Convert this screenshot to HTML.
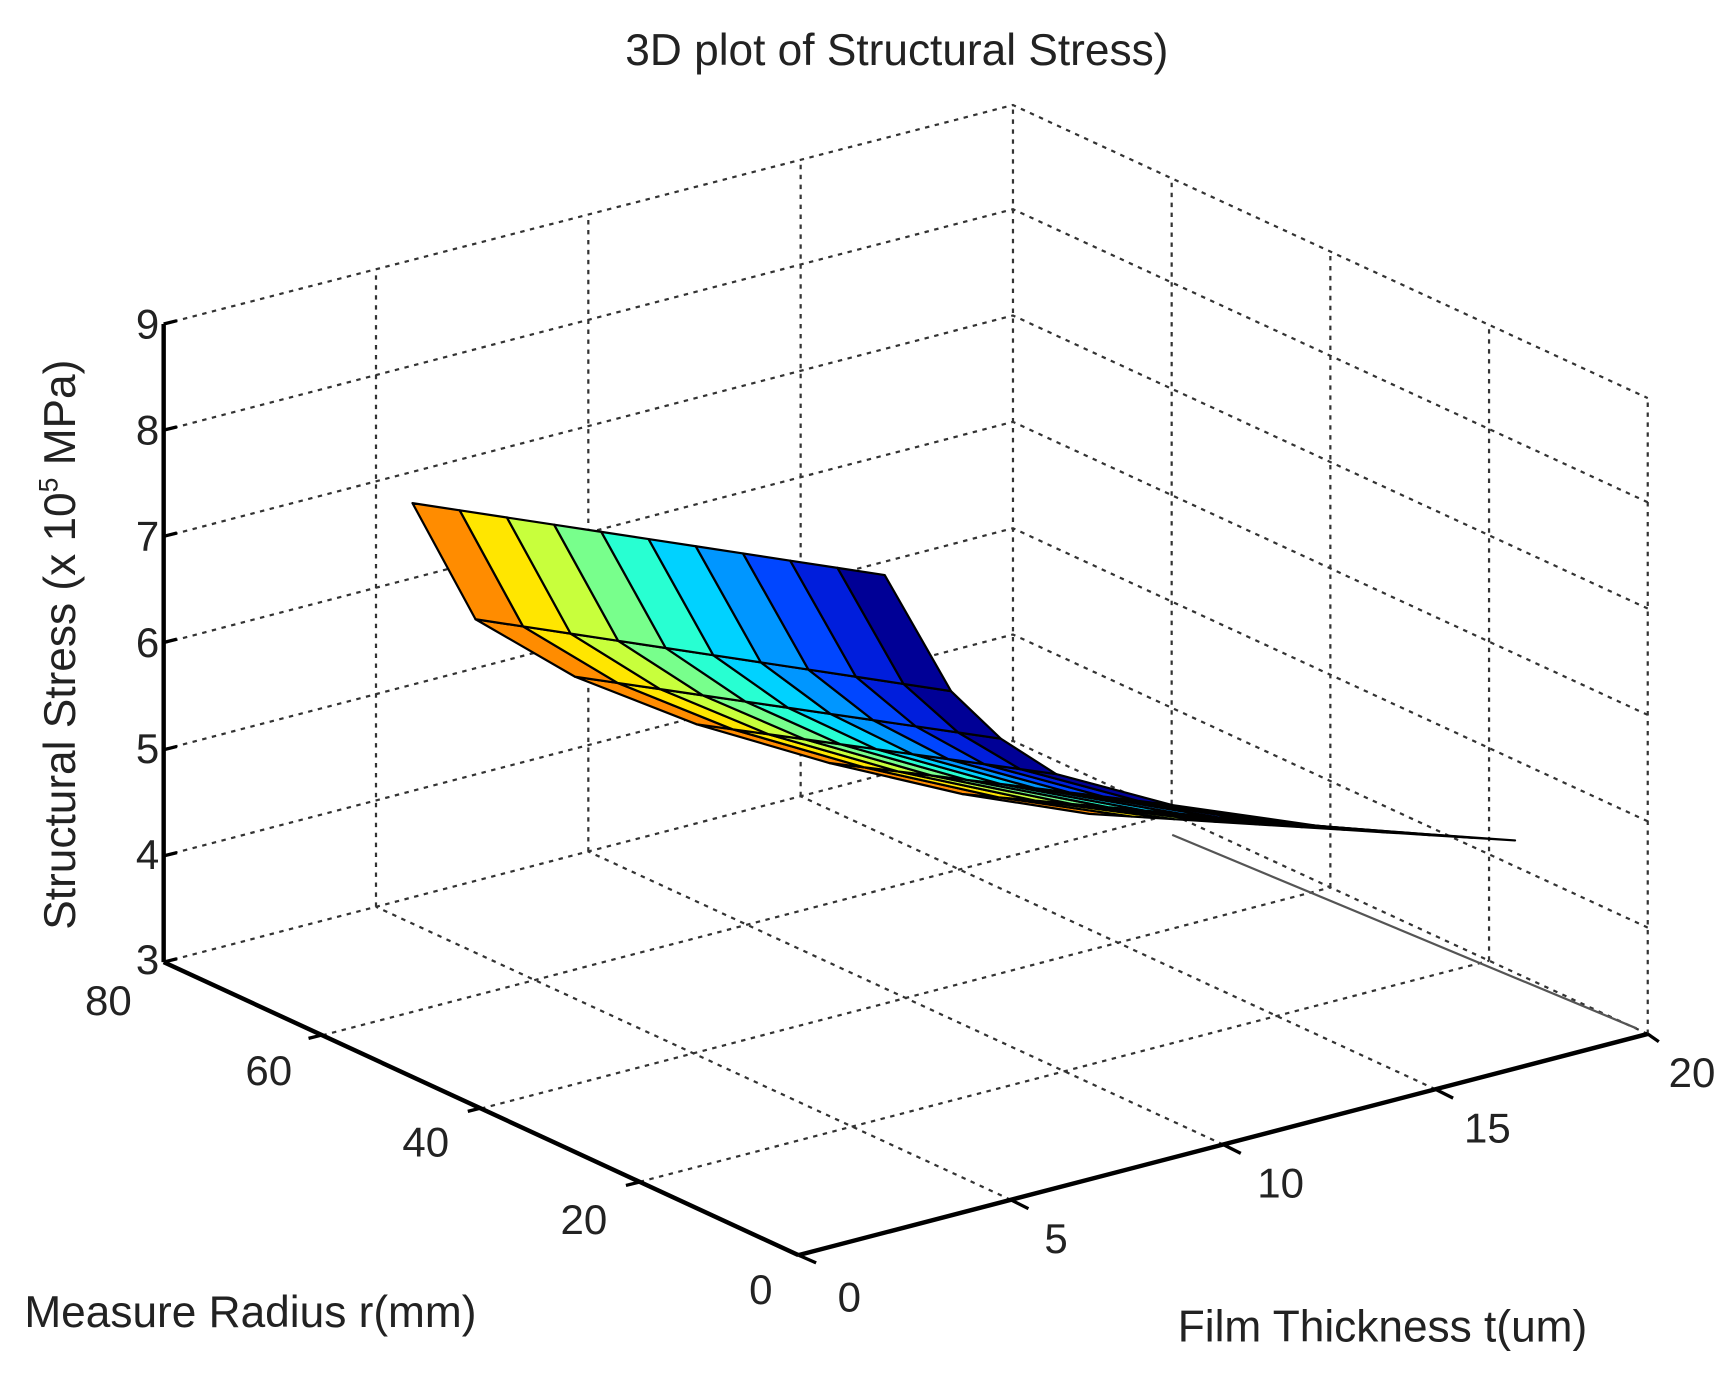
<!DOCTYPE html>
<html><head><style>
html,body{margin:0;padding:0;background:#fff;}
svg{display:block;}
text{font-family:"Liberation Sans",sans-serif;fill:#222;}
</style></head><body>
<svg width="1734" height="1373" viewBox="0 0 1568 1241.6" preserveAspectRatio="none" xmlns="http://www.w3.org/2000/svg">
<rect width="1568" height="1242" fill="#fff"/>
<g stroke="#333" stroke-width="2" stroke-dasharray="4,5" fill="none">
<line x1="578.5" y1="1068.75" x2="1346.5" y2="868.75"/>
<line x1="435" y1="1002.5" x2="1203" y2="802.5"/>
<line x1="291.5" y1="936.25" x2="1059.5" y2="736.25"/>
<line x1="148" y1="870" x2="916" y2="670"/>
<line x1="914" y1="1085" x2="340" y2="820"/>
<line x1="1106" y1="1035" x2="532" y2="770"/>
<line x1="1298" y1="985" x2="724" y2="720"/>
<line x1="1490" y1="935" x2="916" y2="670"/>
<line x1="340" y1="820" x2="340" y2="245"/>
<line x1="532" y1="770" x2="532" y2="195"/>
<line x1="724" y1="720" x2="724" y2="145"/>
<line x1="916" y1="670" x2="916" y2="95"/>
<line x1="1059.5" y1="736.25" x2="1059.5" y2="161.25"/>
<line x1="1203" y1="802.5" x2="1203" y2="227.5"/>
<line x1="1346.5" y1="868.75" x2="1346.5" y2="293.75"/>
<line x1="1490" y1="935" x2="1490" y2="360"/>
<polyline points="148,773.8 916,573.8 1490,838.8"/>
<polyline points="148,677.7 916,477.7 1490,742.7"/>
<polyline points="148,581.5 916,381.5 1490,646.5"/>
<polyline points="148,485.3 916,285.3 1490,550.3"/>
<polyline points="148,389.2 916,189.2 1490,454.2"/>
<polyline points="148,293 916,95 1490,360"/>
</g>
<line x1="1060" y1="755" x2="1480" y2="930" stroke="#555" stroke-width="2"/>
<g stroke="#000" stroke-width="2" stroke-linejoin="round">
<polygon fill="#ff8c00" points="870,718 903,721 1023.5,738.4 985,736"/>
<polygon fill="#ffe600" points="903,721 936,724 1062,740.8 1023.5,738.4"/>
<polygon fill="#c8ff3c" points="936,724 969,727 1100.5,743.2 1062,740.8"/>
<polygon fill="#78ff8c" points="969,727 1002,730 1139,745.6 1100.5,743.2"/>
<polygon fill="#28ffd2" points="1002,730 1035,733 1177.5,748 1139,745.6"/>
<polygon fill="#00d2ff" points="1035,733 1068,736 1216,750.4 1177.5,748"/>
<polygon fill="#0096ff" points="1068,736 1101,739 1254.5,752.8 1216,750.4"/>
<polygon fill="#0046ff" points="1101,739 1134,742 1293,755.2 1254.5,752.8"/>
<polygon fill="#001edc" points="1134,742 1167,745 1331.5,757.6 1293,755.2"/>
<polygon fill="#000096" points="1167,745 1200,748 1370,760 1331.5,757.6"/>
<polygon fill="#ff8c00" points="750,690 781,693.8 903,721 870,718"/>
<polygon fill="#ffe600" points="781,693.8 812,697.6 936,724 903,721"/>
<polygon fill="#c8ff3c" points="812,697.6 843,701.4 969,727 936,724"/>
<polygon fill="#78ff8c" points="843,701.4 874,705.2 1002,730 969,727"/>
<polygon fill="#28ffd2" points="874,705.2 905,709 1035,733 1002,730"/>
<polygon fill="#00d2ff" points="905,709 936,712.8 1068,736 1035,733"/>
<polygon fill="#0096ff" points="936,712.8 967,716.6 1101,739 1068,736"/>
<polygon fill="#0046ff" points="967,716.6 998,720.4 1134,742 1101,739"/>
<polygon fill="#001edc" points="998,720.4 1029,724.2 1167,745 1134,742"/>
<polygon fill="#000096" points="1029,724.2 1060,728 1200,748 1167,745"/>
<polygon fill="#ff8c00" points="630,655 662.5,659.5 781,693.8 750,690"/>
<polygon fill="#ffe600" points="662.5,659.5 695,664 812,697.6 781,693.8"/>
<polygon fill="#c8ff3c" points="695,664 727.5,668.5 843,701.4 812,697.6"/>
<polygon fill="#78ff8c" points="727.5,668.5 760,673 874,705.2 843,701.4"/>
<polygon fill="#28ffd2" points="760,673 792.5,677.5 905,709 874,705.2"/>
<polygon fill="#00d2ff" points="792.5,677.5 825,682 936,712.8 905,709"/>
<polygon fill="#0096ff" points="825,682 857.5,686.5 967,716.6 936,712.8"/>
<polygon fill="#0046ff" points="857.5,686.5 890,691 998,720.4 967,716.6"/>
<polygon fill="#001edc" points="890,691 922.5,695.5 1029,724.2 998,720.4"/>
<polygon fill="#000096" points="922.5,695.5 955,700 1060,728 1029,724.2"/>
<polygon fill="#ff8c00" points="520,612 558.5,617.6 662.5,659.5 630,655"/>
<polygon fill="#ffe600" points="558.5,617.6 597,623.2 695,664 662.5,659.5"/>
<polygon fill="#c8ff3c" points="597,623.2 635.5,628.8 727.5,668.5 695,664"/>
<polygon fill="#78ff8c" points="635.5,628.8 674,634.4 760,673 727.5,668.5"/>
<polygon fill="#28ffd2" points="674,634.4 712.5,640 792.5,677.5 760,673"/>
<polygon fill="#00d2ff" points="712.5,640 751,645.6 825,682 792.5,677.5"/>
<polygon fill="#0096ff" points="751,645.6 789.5,651.2 857.5,686.5 825,682"/>
<polygon fill="#0046ff" points="789.5,651.2 828,656.8 890,691 857.5,686.5"/>
<polygon fill="#001edc" points="828,656.8 866.5,662.4 922.5,695.5 890,691"/>
<polygon fill="#000096" points="866.5,662.4 905,668 955,700 922.5,695.5"/>
<polygon fill="#ff8c00" points="430,560 473,566.5 558.5,617.6 520,612"/>
<polygon fill="#ffe600" points="473,566.5 516,573 597,623.2 558.5,617.6"/>
<polygon fill="#c8ff3c" points="516,573 559,579.5 635.5,628.8 597,623.2"/>
<polygon fill="#78ff8c" points="559,579.5 602,586 674,634.4 635.5,628.8"/>
<polygon fill="#28ffd2" points="602,586 645,592.5 712.5,640 674,634.4"/>
<polygon fill="#00d2ff" points="645,592.5 688,599 751,645.6 712.5,640"/>
<polygon fill="#0096ff" points="688,599 731,605.5 789.5,651.2 751,645.6"/>
<polygon fill="#0046ff" points="731,605.5 774,612 828,656.8 789.5,651.2"/>
<polygon fill="#001edc" points="774,612 817,618.5 866.5,662.4 828,656.8"/>
<polygon fill="#000096" points="817,618.5 860,625 905,668 866.5,662.4"/>
<polygon fill="#ff8c00" points="373,455 415.7,461.5 473,566.5 430,560"/>
<polygon fill="#ffe600" points="415.7,461.5 458.4,468 516,573 473,566.5"/>
<polygon fill="#c8ff3c" points="458.4,468 501.1,474.5 559,579.5 516,573"/>
<polygon fill="#78ff8c" points="501.1,474.5 543.8,481 602,586 559,579.5"/>
<polygon fill="#28ffd2" points="543.8,481 586.5,487.5 645,592.5 602,586"/>
<polygon fill="#00d2ff" points="586.5,487.5 629.2,494 688,599 645,592.5"/>
<polygon fill="#0096ff" points="629.2,494 671.9,500.5 731,605.5 688,599"/>
<polygon fill="#0046ff" points="671.9,500.5 714.6,507 774,612 731,605.5"/>
<polygon fill="#001edc" points="714.6,507 757.3,513.5 817,618.5 774,612"/>
<polygon fill="#000096" points="757.3,513.5 800,520 860,625 817,618.5"/>
</g>
<g stroke="#000" stroke-width="4" fill="none">
<line x1="148" y1="293" x2="148" y2="870"/>
<line x1="148" y1="870" x2="722" y2="1135"/>
<line x1="722" y1="1135" x2="1490" y2="935"/>
</g>
<g stroke="#000" stroke-width="3">
<line x1="148" y1="293" x2="160" y2="290"/><line x1="148" y1="389" x2="160" y2="386"/>
<line x1="148" y1="485" x2="160" y2="482"/><line x1="148" y1="581" x2="160" y2="578"/>
<line x1="148" y1="678" x2="160" y2="675"/><line x1="148" y1="774" x2="160" y2="771"/>
<line x1="148" y1="870" x2="160" y2="867"/>
<line x1="578" y1="1069" x2="566" y2="1072"/><line x1="435" y1="1002" x2="423" y2="1005"/><line x1="291" y1="936" x2="279" y2="939"/>
<line x1="914" y1="1085" x2="930" y2="1093"/><line x1="1106" y1="1035" x2="1122" y2="1043"/><line x1="1298" y1="985" x2="1314" y2="993"/>
<line x1="1490" y1="935" x2="1500" y2="942"/><line x1="722" y1="1135" x2="738" y2="1142"/>
</g>
<g font-size="38" text-anchor="end">
<text x="144" y="306">9</text><text x="144" y="402">8</text><text x="144" y="498">7</text>
<text x="144" y="594">6</text><text x="144" y="690">5</text><text x="144" y="786">4</text><text x="144" y="881">3</text>
</g>
<g font-size="38" text-anchor="middle">
<text x="98" y="918">80</text><text x="243" y="981">60</text><text x="385" y="1046">40</text>
<text x="528" y="1116">20</text><text x="688" y="1179">0</text>
<text x="768" y="1186">0</text><text x="955" y="1133">5</text><text x="1158" y="1083">10</text>
<text x="1345" y="1033">15</text><text x="1530" y="983">20</text>
</g>
<text x="811" y="59" font-size="40" text-anchor="middle">3D plot of Structural Stress)</text>
<text x="22" y="1200" font-size="40">Measure Radius r(mm)</text>
<text x="1065" y="1213" font-size="40">Film Thickness t(um)</text>
<text transform="translate(68,583) rotate(-90)" font-size="40" text-anchor="middle">Structural Stress (x 10<tspan font-size="24" dy="-16">5</tspan><tspan dy="16"> MPa)</tspan></text>
</svg>
</body></html>
